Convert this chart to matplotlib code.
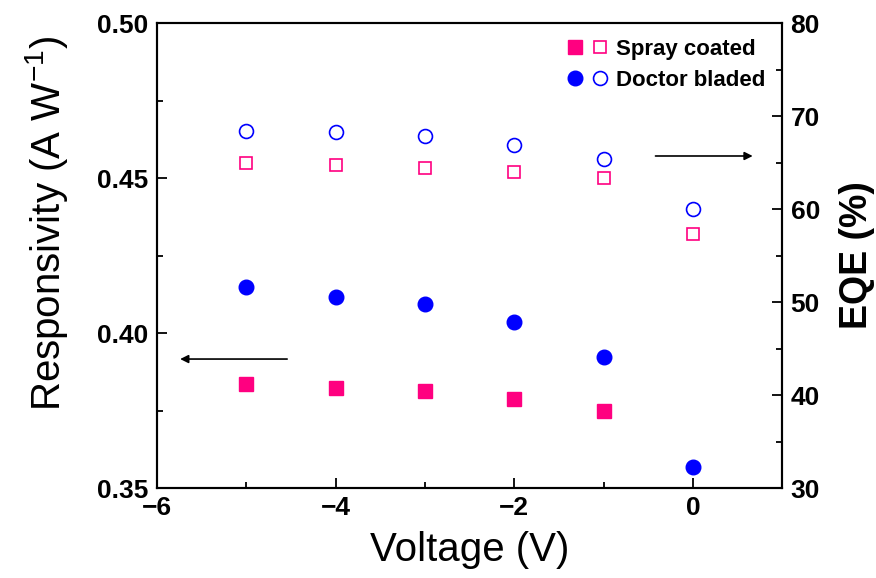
import numpy as np
from matplotlib import pyplot as plt
from matplotlib.legend_handler import HandlerTuple
from matplotlib.ticker import MultipleLocator

# tension appliquée (V)
voltage = [-5, -4, -3, -2, -1, 0]
voltage_spray = [-5, -4, -3, -2, -1]

# responsivité (A/W)
resp_spray = [0.3835, 0.3823, 0.3813, 0.3787, 0.3748]
resp_doctor = [0.4147, 0.4117, 0.4095, 0.4035, 0.3923, 0.3568]

# rendement quantique externe (%)
eqe_spray = [64.9, 64.7, 64.4, 64.0, 63.3, 57.3]
eqe_doctor = [68.4, 68.3, 67.9, 66.9, 65.4, 60.0]

rose = '#ff0080'
bleu = '#0000ff'

plt.rcParams['font.family'] = ['Liberation Sans', 'DejaVu Sans']
plt.rcParams['mathtext.fontset'] = 'custom'
plt.rcParams['mathtext.rm'] = 'Liberation Sans'

fig = plt.figure(figsize=(8.76, 5.78), dpi=100)
ax = fig.add_axes([0.179, 0.1557, 0.714, 0.8045])
ax2 = ax.twinx()

p1, = ax.plot(voltage_spray, resp_spray, 's', color=rose, ms=9.5, mec=rose)
p2, = ax.plot(voltage, resp_doctor, 'o', color=bleu, ms=10.5, mec=bleu)
p3, = ax2.plot(voltage, eqe_spray, 's', mfc='none', mec=rose, ms=9, mew=1.2)
p4, = ax2.plot(voltage, eqe_doctor, 'o', mfc='none', mec=bleu, ms=10, mew=1.2)

ax.set_xlim(-6, 1)
ax.set_ylim(0.35, 0.50)
ax2.set_ylim(30, 80)

ax.xaxis.set_major_locator(MultipleLocator(2))
ax.xaxis.set_minor_locator(MultipleLocator(1))
ax.yaxis.set_major_locator(MultipleLocator(0.05))
ax.yaxis.set_minor_locator(MultipleLocator(0.025))
ax2.yaxis.set_major_locator(MultipleLocator(10))
ax2.yaxis.set_minor_locator(MultipleLocator(5))

ax.tick_params(which='both', direction='in', top=False, right=False, width=1.3)
ax.tick_params(which='major', length=7, labelsize=19, pad=6)
ax.tick_params(which='minor', length=4)
ax2.tick_params(which='both', direction='in', width=1.3)
ax2.tick_params(which='major', length=7, labelsize=19, pad=6)
ax2.tick_params(which='minor', length=4)

for lab in ax.get_xticklabels() + ax.get_yticklabels() + ax2.get_yticklabels():
    lab.set_fontweight('bold')

ax.set_xticks([-6, -4, -2, 0])
ax.set_xticklabels(['\u22126', '\u22124', '\u22122', '0'], fontweight='bold')

for s in ax.spines.values():
    s.set_linewidth(1.5)
for s in ax2.spines.values():
    s.set_linewidth(1.5)

ax.set_xlabel('Voltage (V)', fontsize=29, labelpad=8)
ax.set_ylabel('Responsivity (A W$^{-1}$)', fontsize=29)
ax.yaxis.set_label_coords(-0.138, 0.57)
ax2.set_ylabel('EQE (%)', fontsize=27, fontweight='bold', labelpad=14)

# flèches indiquant l'axe de chaque série
ax.annotate('', xy=(-5.77, 0.3916), xytext=(-4.51, 0.3916),
            arrowprops=dict(arrowstyle='-|>', color='black', lw=1.2,
                            mutation_scale=12))
ax2.annotate('', xy=(0.70, 65.7), xytext=(-0.45, 65.7),
             arrowprops=dict(arrowstyle='-|>', color='black', lw=1.2,
                             mutation_scale=12))

leg = ax2.legend([(p1, p3), (p2, p4)], ['Spray coated', 'Doctor bladed'],
                 handler_map={tuple: HandlerTuple(ndivide=None, pad=0.4)},
                 loc='upper right', bbox_to_anchor=(0.995, 0.995), frameon=False,
                 prop={'size': 16, 'weight': 'bold'}, handlelength=1.9,
                 handletextpad=0.35, labelspacing=0.45, borderaxespad=0.2)

plt.savefig('out.png', dpi=100)
